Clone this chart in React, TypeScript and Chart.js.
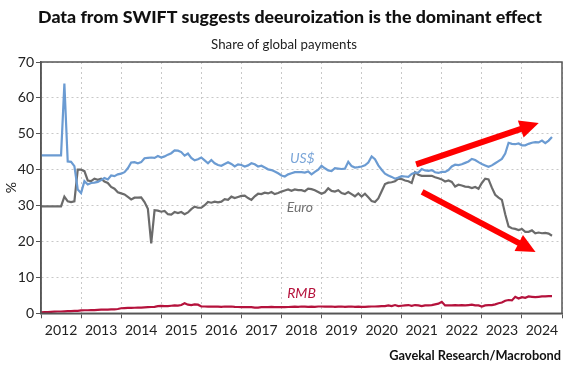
import React, { useEffect, useRef } from "react";
import { Chart, registerables } from "chart.js";

Chart.register(...registerables);

// ---------- data ----------
const START_YEAR = 2012; // first monthly observation: Jan 2012
const years = [2012, 2013, 2014, 2015, 2016, 2017, 2018, 2019, 2020, 2021, 2022, 2023, 2024];
const yTicks = [0, 10, 20, 30, 40, 50, 60, 70];

// Monthly share of global payments (%), Jan 2012 - Oct 2024
const usd = [
  44, 44, 44, 44, 44, 44, 44, 64, 42.3, 42.2, 41.0, 34.5,
  33.5, 36.8, 35.9, 36.3, 36.4, 36.6, 37.1, 37.7, 37.3, 38.4, 38.2, 38.7,
  38.9, 39.3, 40.4, 42.0, 42.1, 41.8, 42.1, 43.2, 43.3, 43.4, 43.3, 43.8,
  43.4, 43.7, 44.2, 44.6, 45.4, 45.3, 44.9, 43.9, 44.5, 43.3, 42.6, 42.9,
  43.4, 42.6, 41.8, 42.7, 41.8, 41.3, 41.1, 41.6, 42.1, 41.6, 40.9, 41.5,
  41.3, 40.9, 41.2, 41.8, 41.5, 40.9, 41.1, 40.6, 40.1, 39.9, 39.5, 39.0,
  38.4, 38.1, 38.7, 39.0, 39.3, 39.3, 39.3, 39.2, 39.5, 38.7, 39.4, 40.0,
  41.1, 40.4, 39.8, 39.6, 40.4, 40.3, 40.2, 40.3, 42.2, 41.0, 40.6, 40.7,
  40.9, 41.2, 42.0, 43.7, 42.9, 41.2, 40.0, 38.9, 38.4, 38.0, 37.5, 37.8,
  38.2, 38.1, 38.0, 38.8, 39.2, 39.2, 40.2, 39.8, 39.7, 39.9, 39.3, 39.1,
  39.4, 39.4, 39.9, 40.9, 41.4, 41.3, 41.5, 41.9, 42.3, 43.0, 42.7, 42.1,
  41.6, 41.2, 40.8, 41.2, 41.8, 42.4, 43.0, 44.5, 47.5, 47.2, 47.1, 47.3,
  46.8, 46.8, 47.2, 47.5, 47.7, 47.6, 48.1, 47.4, 48.1, 49.1,
];

const euro = [
  29.8, 29.8, 29.8, 29.8, 29.8, 29.8, 29.8, 32.5, 31.2, 31.0, 31.2, 40.0,
  40.0, 39.6, 37.0, 36.8, 37.5, 37.2, 37.5, 36.7, 36.3, 35.2, 34.7, 33.7,
  33.4, 33.1, 32.4, 31.7, 32.2, 32.2, 32.3, 31.0, 29.1, 19.5, 28.7, 28.6,
  28.3, 28.5, 27.6, 27.5, 28.2, 27.9, 28.2, 27.6, 28.1, 29.0, 29.7, 29.4,
  29.4, 30.1, 31.0, 30.8, 31.1, 30.9, 31.1, 31.8, 31.6, 32.5, 32.1, 32.4,
  32.7, 32.8, 32.1, 31.6, 32.6, 33.3, 33.2, 33.6, 33.4, 33.8, 33.2, 33.5,
  33.9, 34.2, 34.5, 34.1, 34.5, 34.3, 34.3, 34.0, 34.7, 34.6, 34.3, 33.8,
  33.3, 33.7, 34.8, 34.1, 33.9, 34.3, 33.5, 33.2, 33.8, 33.2, 32.6, 33.4,
  32.5, 33.3, 32.3, 31.3, 31.0, 32.0, 34.0, 36.0, 36.4, 36.5, 36.8, 37.5,
  37.4, 37.0, 36.8, 36.3, 39.3, 38.6, 38.3, 38.3, 38.3, 38.3, 37.9, 37.6,
  37.3, 36.7, 37.0, 36.6, 35.3, 35.8, 35.6, 35.3, 35.2, 34.9, 35.2, 34.7,
  36.3, 37.5, 37.3, 35.0, 33.0, 32.2, 31.6, 27.6, 24.2, 23.7, 23.5, 23.2,
  23.5, 22.7, 22.7, 23.1, 22.3, 22.5, 22.3, 22.4, 22.2, 21.6,
];

const rmb = [
  0.25, 0.3, 0.35, 0.4, 0.45, 0.5, 0.5, 0.55, 0.6, 0.6, 0.65, 0.7,
  0.8, 0.85, 0.85, 0.9, 0.9, 0.95, 1.0, 1.0, 1.05, 1.1, 1.1, 1.2,
  1.4, 1.45, 1.5, 1.5, 1.55, 1.6, 1.6, 1.65, 1.7, 1.75, 1.8, 2.0,
  2.05, 2.0, 2.0, 2.1, 2.2, 2.15, 2.3, 2.8, 2.4, 2.3, 2.5, 2.4,
  1.9, 1.9, 1.85, 1.9, 1.85, 1.85, 1.8, 1.9, 1.85, 1.9, 1.8, 1.75,
  1.7, 1.75, 1.7, 1.7, 1.6, 1.6, 1.7, 1.75, 1.7, 1.8, 1.7, 1.7,
  1.7, 1.7, 1.75, 1.8, 1.85, 1.8, 1.9, 1.85, 1.8, 1.85, 1.8, 1.9,
  1.9, 1.85, 1.85, 1.9, 1.8, 1.85, 1.9, 1.8, 1.85, 1.9, 1.8, 1.85,
  1.8, 1.8, 1.85, 1.9, 1.9, 1.95, 2.0, 2.0, 2.2, 2.0, 2.3, 2.0,
  2.1, 2.2, 2.3, 2.1, 2.3, 2.2, 2.0, 2.2, 2.2, 2.3, 2.5, 2.7,
  3.2, 2.2, 2.2, 2.2, 2.3, 2.2, 2.3, 2.2, 2.3, 2.4, 2.2, 2.2,
  1.9, 2.2, 2.3, 2.3, 2.5, 2.8, 3.0, 3.5, 3.7, 3.6, 4.6, 4.1,
  4.5, 4.3, 4.7, 4.6, 4.5, 4.6, 4.7, 4.7, 4.8, 4.8,
];

const seriesNames = ["US$", "Euro", "RMB"];

// ---------- text ----------
const titleText = "Data from SWIFT suggests deeuroization is the dominant effect";
const subtitleText = "Share of global payments";
const sourceText = "Gavekal Research/Macrobond";
const yAxisTitle = "%";

// ---------- styling / annotation placement ----------
const FONT = "Lato, 'Open Sans', sans-serif";
const COLORS = { usd: "#6b9bd2", euro: "#6b6b6b", rmb: "#b5123c" };
const LABEL_COLORS = { usd: "#7aa5d8", euro: "#707070", rmb: "#b5123c" };
const GRID = "#c8c8c8";
const FRAME = "#555555";

// label anchor points in data coordinates (year, %)
const labelAnchors = [
  { x: 2018.52, y: 43.2 },
  { x: 2018.46, y: 29.4 },
  { x: 2018.5, y: 5.5 },
];
// arrows in data coordinates
const arrowAnchors = [
  { x0: 2021.36, y0: 41.5, x1: 2024.42, y1: 53.0 },
  { x0: 2021.51, y0: 33.8, x1: 2024.34, y1: 17.1 },
];

const toPoints = (arr: number[]) => arr.map((v, i) => ({ x: START_YEAR + i / 12, y: v }));

function fitSize(ctx: CanvasRenderingContext2D, text: string, font: string, target: number, max: number) {
  ctx.font = font.replace("{s}", "20px");
  const w = ctx.measureText(text).width;
  return Math.min(max, (20 * target) / w);
}

const overlayPlugin = {
  id: "overlay",
  afterDatasetsDraw(chart: any) {
    const { ctx, scales } = chart;
    const xs = scales.x;
    const ys = scales.y;
    // arrows
    ctx.save();
    ctx.fillStyle = "#ff0000";
    ctx.strokeStyle = "#ff0000";
    for (const a of arrowAnchors) {
      const px0 = xs.getPixelForValue(a.x0);
      const py0 = ys.getPixelForValue(a.y0);
      const px1 = xs.getPixelForValue(a.x1);
      const py1 = ys.getPixelForValue(a.y1);
      const ang = Math.atan2(py1 - py0, px1 - px0);
      const headLen = 19;
      const headHalf = 9;
      const bx = px1 - headLen * Math.cos(ang);
      const by = py1 - headLen * Math.sin(ang);
      ctx.lineWidth = 6;
      ctx.lineCap = "butt";
      ctx.beginPath();
      ctx.moveTo(px0, py0);
      ctx.lineTo(bx + 2 * Math.cos(ang), by + 2 * Math.sin(ang));
      ctx.stroke();
      ctx.beginPath();
      ctx.moveTo(px1, py1);
      ctx.lineTo(bx + headHalf * Math.sin(ang), by - headHalf * Math.cos(ang));
      ctx.lineTo(bx - headHalf * Math.sin(ang), by + headHalf * Math.cos(ang));
      ctx.closePath();
      ctx.fill();
    }
    ctx.restore();

    // series labels
    const lc = [LABEL_COLORS.usd, LABEL_COLORS.euro, LABEL_COLORS.rmb];
    ctx.save();
    ctx.textAlign = "center";
    ctx.textBaseline = "middle";
    seriesNames.forEach((name, i) => {
      ctx.font = `italic 14px ${FONT}`;
      ctx.fillStyle = lc[i];
      ctx.fillText(name, xs.getPixelForValue(labelAnchors[i].x), ys.getPixelForValue(labelAnchors[i].y));
    });
    ctx.restore();
  },
  afterDraw(chart: any) {
    const { ctx, chartArea } = chart;
    ctx.save();
    // plot frame
    ctx.strokeStyle = FRAME;
    ctx.lineWidth = 1.5;
    ctx.strokeRect(chartArea.left, chartArea.top, chartArea.right - chartArea.left, chartArea.bottom - chartArea.top);

    // title
    ctx.fillStyle = "#111111";
    ctx.textBaseline = "alphabetic";
    ctx.textAlign = "center";
    let s = fitSize(ctx, titleText, `900 {s} ${FONT}`, 504, 19);
    ctx.font = `900 ${s}px ${FONT}`;
    ctx.fillText(titleText, 290, 23);

    ctx.fillStyle = "#222222";
    s = fitSize(ctx, subtitleText, `normal {s} ${FONT}`, 146, 15);
    ctx.font = `normal ${s}px ${FONT}`;
    ctx.fillText(subtitleText, 284, 48.5);

    ctx.fillStyle = "#111111";
    ctx.textAlign = "right";
    s = fitSize(ctx, sourceText, `bold {s} ${FONT}`, 172, 14);
    ctx.font = `bold ${s}px ${FONT}`;
    ctx.fillText(sourceText, 561, 360);
    ctx.restore();
  },
};

const xTickValues = years.flatMap((y) => [y, y + 0.5]).concat([years[years.length - 1] + 1]);

export default function App() {
  const canvasRef = useRef<HTMLCanvasElement | null>(null);

  useEffect(() => {
    document.body.style.margin = "0";
    const canvas = canvasRef.current;
    if (!canvas) return;
    const tickFont = { family: FONT, size: 14 };
    const chart = new Chart(canvas, {
      type: "line",
      data: {
        datasets: [
          { label: seriesNames[0], data: toPoints(usd), borderColor: COLORS.usd, borderWidth: 2.2, pointRadius: 0, tension: 0 },
          { label: seriesNames[1], data: toPoints(euro), borderColor: COLORS.euro, borderWidth: 2.2, pointRadius: 0, tension: 0 },
          { label: seriesNames[2], data: toPoints(rmb), borderColor: COLORS.rmb, borderWidth: 2.2, pointRadius: 0, tension: 0 },
        ],
      },
      options: {
        responsive: false,
        animation: false,
        events: [],
        layout: { padding: { left: 0, right: 19, top: 62, bottom: 31.7 } },
        plugins: { legend: { display: false }, tooltip: { enabled: false }, title: { display: false } },
        scales: {
          x: {
            type: "linear",
            min: years[0],
            max: years[years.length - 1] + 1,
            afterBuildTicks: (scale: any) => {
              scale.ticks = xTickValues.map((v) => ({ value: v }));
            },
            afterFit: (scale: any) => {
              scale.height = 30;
            },
            ticks: {
              autoSkip: false,
              maxRotation: 0,
              minRotation: 0,
              padding: 4,
              color: "#222222",
              font: tickFont,
              callback: (v: any) => (Number.isInteger(v) ? "" : String(Math.floor(v))),
            },
            grid: {
              color: (c: any) => (c.tick && Number.isInteger(c.tick.value) ? GRID : "rgba(0,0,0,0)"),
              tickColor: (c: any) => (c.tick && Number.isInteger(c.tick.value) ? FRAME : "rgba(0,0,0,0)"),
              tickLength: 5,
              lineWidth: 1,
            },
            border: { display: true, color: FRAME, width: 1.5, dash: [2, 3] },
          },
          y: {
            min: 0,
            max: 70,
            afterBuildTicks: (scale: any) => {
              scale.ticks = yTicks.map((v) => ({ value: v }));
            },
            afterFit: (scale: any) => {
              scale.width = 41;
            },
            ticks: { padding: 2, color: "#222222", font: tickFont },
            grid: { color: GRID, tickColor: FRAME, tickLength: 5, lineWidth: 1 },
            border: { display: true, color: FRAME, width: 1.5, dash: [2, 3] },
            title: {
              display: true,
              text: yAxisTitle,
              color: "#222222",
              font: { family: FONT, size: 14 },
              padding: { top: 3, bottom: 0 },
            },
          },
        },
      },
      plugins: [overlayPlugin],
    } as any);
    return () => chart.destroy();
  }, []);

  return (
    <div style={{ width: 581, height: 375, background: "#ffffff" }}>
      <canvas ref={canvasRef} width={581} height={375} style={{ display: "block" }} />
    </div>
  );
}
